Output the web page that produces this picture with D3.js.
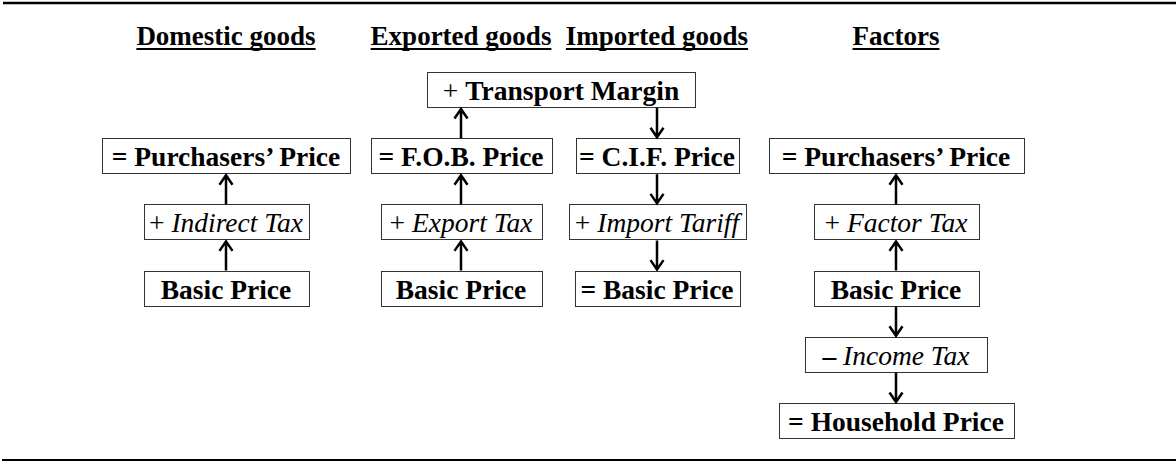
<!DOCTYPE html>
<html>
<head>
<meta charset="utf-8">
<script src="https://cdn.jsdelivr.net/npm/d3@7"></script>
<style>
  body { margin: 0; background: #fff; }
  svg { display: block; }
  text { font-family: "Liberation Serif", "Times New Roman", serif; fill: #000; }
  .header { font-size: 27px; font-weight: bold; }
  .box-label { font-size: 27.5px; }
  .box { fill: #fff; stroke: #333; stroke-width: 1; }
  .arrow { fill: none; stroke: #000; stroke-width: 2.5; stroke-linecap: butt; }
  .rule { stroke: #000; }
</style>
</head>
<body>
<script>

// column headers
const columns = ["Domestic goods", "Exported goods", "Imported goods", "Factors"];

// boxes: column, row (0 = top), label and kind (price = bold, tax = italic)
const boxCols = ["Transport", "Domestic goods", "Domestic goods", "Domestic goods",
  "Exported goods", "Exported goods", "Exported goods",
  "Imported goods", "Imported goods", "Imported goods",
  "Factors", "Factors", "Factors", "Factors", "Factors"];
const boxRows = [0, 1, 2, 3, 1, 2, 3, 1, 2, 3, 1, 2, 3, 4, 5];
const boxLabels = ["+ Transport Margin", "= Purchasers’ Price", "+ Indirect Tax", "Basic Price",
  "= F.O.B. Price", "+ Export Tax", "Basic Price",
  "= C.I.F. Price", "+ Import Tariff", "= Basic Price",
  "= Purchasers’ Price", "+ Factor Tax", "Basic Price", "– Income Tax", "= Household Price"];
const boxKinds = ["price", "price", "tax", "price",
  "price", "tax", "price",
  "price", "tax", "price",
  "price", "tax", "price", "tax", "price"];

// arrows between boxes (index of box it starts at -> index it points to)
const arrowFrom = [3, 2, 6, 5, 4, 0, 7, 8, 12, 11, 12, 13];
const arrowTo   = [2, 1, 5, 4, 0, 7, 8, 9, 11, 10, 13, 14];

// ---- layout ----
const w = 1176, h = 462;
const boxH = 35;
const boxW = [268, 248, 165, 165, 181, 161, 161, 163, 177, 165, 255, 165, 165, 182, 235];
const colCenter = [226, 461, 657, 896];

const x = d3.scaleOrdinal()
  .domain(columns.concat(["Transport"]))
  .range(colCenter.concat([(colCenter[1] + colCenter[2]) / 2 + 2]));

const y = d3.scaleLinear()
  .domain([0, 5])
  .range([72, 403]); // top of each row of boxes

const svg = d3.select("body")
  .append("svg")
  .attr("width", w)
  .attr("height", h);

// top and bottom rules
svg.append("line").attr("class", "rule")
  .attr("x1", 3).attr("x2", w).attr("y1", 3).attr("y2", 3)
  .attr("stroke-width", 2.5);
svg.append("line").attr("class", "rule")
  .attr("x1", 2).attr("x2", w).attr("y1", 460).attr("y2", 460)
  .attr("stroke-width", 2.2);

// headers, underlined
const headers = svg.selectAll(".header")
  .data(columns)
  .enter()
  .append("text")
  .attr("class", "header")
  .attr("x", d => x(d))
  .attr("y", 45)
  .attr("text-anchor", "middle")
  .text(d => d);

headers.each(function(d) {
  const bb = this.getBBox();
  svg.append("line").attr("class", "rule")
    .attr("x1", bb.x).attr("x2", bb.x + bb.width)
    .attr("y1", 49).attr("y2", 49)
    .attr("stroke-width", 2.2);
});

// boxes
const boxes = boxLabels.map((label, i) => ({
  label: label,
  kind: boxKinds[i],
  cx: x(boxCols[i]),
  top: y(boxRows[i]),
  w: boxW[i]
}));

const g = svg.selectAll(".node")
  .data(boxes)
  .enter()
  .append("g")
  .attr("class", "node");

g.append("rect")
  .attr("class", "box")
  .attr("x", d => Math.round(d.cx - d.w / 2) + 0.5)
  .attr("y", d => Math.round(d.top) + 0.5)
  .attr("width", d => d.w)
  .attr("height", boxH);

const label = g.append("text")
  .attr("class", "box-label")
  .attr("x", d => d.cx)
  .attr("y", d => d.top + 28)
  .attr("text-anchor", "middle");

label.each(function(d) {
  const t = d3.select(this);
  let prefix = "", body = d.label;
  if ("=+–".indexOf(d.label[0]) >= 0) {
    prefix = d.label[0];
    body = d.label.slice(2);
  }
  if (prefix) {
    t.append("tspan")
      .attr("font-weight", prefix == "+" ? "normal" : "bold")
      .text(prefix + " ");
  }
  t.append("tspan")
    .attr("font-weight", d.kind == "price" ? "bold" : "normal")
    .attr("font-style", d.kind == "tax" ? "italic" : "normal")
    .text(body);
});

// arrows with open heads
const arrows = arrowFrom.map((f, i) => {
  const a = boxes[f], b = boxes[arrowTo[i]];
  const down = b.top > a.top;
  return {
    x: a.cx,
    y1: down ? a.top + boxH + 1 : a.top,
    y2: down ? b.top : b.top + boxH + 1,
    down: down
  };
});
// arrows linked to transport margin sit on the column lines
arrows.forEach((d, i) => {
  if (arrowTo[i] == 0) d.x = x(boxCols[arrowFrom[i]]);
  if (arrowFrom[i] == 0) d.x = x(boxCols[arrowTo[i]]);
});

const line = d3.line();
svg.selectAll(".arrow")
  .data(arrows)
  .enter()
  .append("path")
  .attr("class", "arrow")
  .attr("d", d => {
    const dir = d.down ? -1 : 1;
    return line([[d.x, d.y1], [d.x, d.y2 + dir * 1]]) +
      line([[d.x - 6.5, d.y2 + dir * 10.5], [d.x, d.y2 + dir * 1], [d.x + 6.5, d.y2 + dir * 10.5]]);
  });

</script>
</body>
</html>
